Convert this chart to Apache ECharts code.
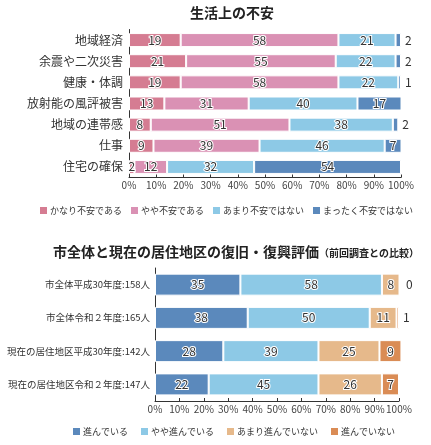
<!DOCTYPE html>
<html><head><meta charset="utf-8">
<script src="https://cdn.jsdelivr.net/npm/echarts@6/dist/echarts.min.js"></script>
<style>html,body{margin:0;padding:0;background:#fff}#c{width:431px;height:445px}</style>
</head><body><div id="c"></div>
<script>
// ---- Chart 1: 生活上の不安 ----
const anxietyCategories = ['地域経済','余震や二次災害','健康・体調','放射能の風評被害','地域の連帯感','仕事','住宅の確保'];
const anxietySeriesNames = ['かなり不安である','やや不安である','あまり不安ではない','まったく不安ではない'];
const veryAnxious = [19,21,19,13,8,9,2];
const somewhatAnxious = [58,55,58,31,51,39,12];
const notVeryAnxious = [21,22,22,40,38,46,32];
const notAnxious = [2,2,1,17,2,7,54];
const anxietyColors = ['#d57c92','#da91b4','#8dc9e6','#5b89bc'];

// ---- Chart 2: 復旧・復興評価 ----
const recoveryCategories = ['市全体平成30年度:158人','市全体令和２年度:165人','現在の居住地区平成30年度:142人','現在の居住地区令和２年度:147人'];
const recoverySeriesNames = ['進んでいる','やや進んでいる','あまり進んでいない','進んでいない'];
const progressing = [35,38,28,22];
const somewhatProgressing = [58,50,39,45];
const notMuchProgressing = [8,11,25,26];
const notProgressing = [0,1,9,7];
const recoveryColors = ['#5b89bc','#8dc9e6','#e6b98b','#da8c55'];

const percentMin = 0, percentMax = 100, percentStep = 10;
const FONT = '"Noto Sans CJK JP", "Noto Sans", sans-serif';

const insideLabel = {show:true, position:'inside', color:'#333', fontSize:12, fontFamily:FONT,
  textBorderColor:'#fff', textBorderWidth:2};
const outsideLabel = {show:true, position:'right', distance:4, color:'#333', fontSize:12, fontFamily:FONT,
  textBorderWidth:0};

function items(values, isLast) {
  return values.map(v => ({value: v, label: (isLast && v <= 2) ? outsideLabel : insideLabel}));
}

function makeSeries(names, valueLists, colors, axisIdx, stack, barWidth, clipLast) {
  return names.map((n, i) => ({
    name: n, type: 'bar', stack: stack, xAxisIndex: axisIdx, yAxisIndex: axisIdx,
    barWidth: barWidth,
    clip: (i === names.length - 1) ? clipLast : true,
    itemStyle: {color: colors[i], borderColor: '#fff', borderWidth: 1},
    data: items(valueLists[i], i === names.length - 1),
    emphasis: {disabled: true}
  }));
}

function xAxisCfg(gi) {
  return {gridIndex: gi, type: 'value', min: percentMin, max: percentMax, interval: percentStep,
    axisLine: {show: true, lineStyle: {color: '#333', width: 1}},
    axisTick: {show: true, inside: true, length: 3, lineStyle: {color: '#333'}},
    splitLine: {show: false},
    axisLabel: {formatter: '{value}%', fontSize: 10, color: '#444', margin: 3, fontFamily: FONT}};
}
function yAxisCfg(gi, cats, fs, margin) {
  return {gridIndex: gi, type: 'category', data: cats, inverse: true,
    axisLine: {show: true, lineStyle: {color: '#333', width: 1}},
    axisTick: {show: false},
    axisLabel: {fontSize: fs, color: '#333', margin: margin, fontFamily: FONT}};
}

const chart = echarts.init(document.getElementById('c'), null, {renderer: 'canvas'});
chart.setOption({
  animation: false,
  textStyle: {fontFamily: FONT},
  title: [
    {text: '生活上の不安', left: 190, top: 6, padding: 0,
      textStyle: {fontSize: 14, fontWeight: 'bold', color: '#222', fontFamily: FONT}},
    {text: '{a|市全体と現在の居住地区の復旧・復興評価}{b|（前回調査との比較）}', left: 53, top: 245, padding: 0,
      textStyle: {rich: {
        a: {fontSize: 14, fontWeight: 'bold', color: '#222', fontFamily: FONT},
        b: {fontSize: 10, fontWeight: 'bold', color: '#222', fontFamily: FONT, padding: [3,0,0,0]}}}}
  ],
  legend: [
    {data: anxietySeriesNames, left: 38, top: 205, width: 393, orient: 'horizontal', icon: 'rect',
      itemWidth: 9, itemHeight: 9, itemGap: 7,
      selectedMode: false, padding: 0, textStyle: {fontSize: 9, color: '#333', fontFamily: FONT, padding: [0,0,0,-3]}},
    {data: recoverySeriesNames, left: 71, top: 426, width: 360, orient: 'horizontal', icon: 'rect',
      itemWidth: 9, itemHeight: 9, itemGap: 11,
      selectedMode: false, padding: 0, textStyle: {fontSize: 9, color: '#333', fontFamily: FONT, padding: [0,0,0,-3]}}
  ],
  grid: [
    {left: 129, right: 30, top: 29.5, height: 148},
    {left: 155, right: 32, top: 268, height: 133}
  ],
  xAxis: [xAxisCfg(0), xAxisCfg(1)],
  yAxis: [yAxisCfg(0, anxietyCategories, 12, 6), yAxisCfg(1, recoveryCategories, 9.5, 5)],
  series: [
    ...makeSeries(anxietySeriesNames, [veryAnxious, somewhatAnxious, notVeryAnxious, notAnxious], anxietyColors, 0, 'a', 14, true),
    ...makeSeries(recoverySeriesNames, [progressing, somewhatProgressing, notMuchProgressing, notProgressing], recoveryColors, 1, 'b', 22, false)
  ]
});
</script>
</body></html>
